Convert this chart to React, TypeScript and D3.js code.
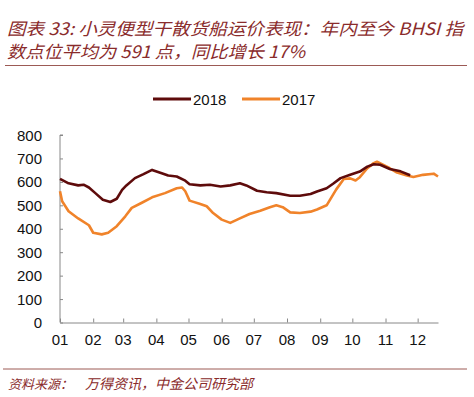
import React, { useEffect, useRef } from 'react';
import * as d3 from 'd3';

// BHSI 2018 vs 2017 (month-day, index points)
const dates2018 = [
  '01-01', '01-09', '01-18', '01-23', '01-28', '02-03', '02-10', '02-17', '02-23', '02-28',
  '03-04', '03-12', '03-20', '03-28', '04-06', '04-12', '04-20', '04-28', '05-02', '05-12',
  '05-21', '05-31', '06-09', '06-18', '06-24', '07-04', '07-13', '07-22', '08-04', '08-13',
  '08-23', '08-29', '09-07', '09-13', '09-20', '09-29', '10-08', '10-15', '10-21', '10-27',
  '11-05', '11-15', '11-24',
];
const values2018 = [
  613, 594, 585, 588, 576, 552, 524, 514, 528, 566,
  585, 616, 633, 651, 637, 627, 623, 605, 590, 585,
  588, 580, 585, 594, 585, 562, 556, 552, 541, 541,
  548, 559, 573, 592, 616, 630, 644, 665, 675, 673,
  655, 645, 628,
];

const dates2017 = [
  '01-01', '01-03', '01-09', '01-18', '01-28', '02-01', '02-09', '02-15', '02-23', '03-03',
  '03-09', '03-18', '03-28', '04-09', '04-20', '04-25', '04-28', '05-02', '05-12', '05-18',
  '05-24', '06-01', '06-09', '06-18', '06-27', '07-07', '07-16', '07-22', '07-28', '08-04',
  '08-13', '08-23', '08-29', '09-07', '09-16', '09-23', '09-29', '10-04', '10-08', '10-15',
  '10-21', '10-24', '10-30', '11-05', '11-11', '11-21', '11-27', '12-06', '12-16', '12-20',
];
const values2017 = [
  560, 517, 475, 444, 415, 383, 376, 383, 411, 453,
  489, 510, 534, 552, 573, 576, 560, 520, 506, 496,
  467, 439, 425, 444, 463, 477, 492, 500, 492, 470,
  467, 473, 482, 500, 568, 612, 615, 606, 620, 658,
  680, 686, 672, 658, 641, 627, 621, 630, 635, 623,
];

const monthLabels = ['01', '02', '03', '04', '05', '06', '07', '08', '09', '10', '11', '12'];
const yTicks = [0, 100, 200, 300, 400, 500, 600, 700, 800];
const seriesNames = ['2018', '2017'];

const title1 = '图表 33:  小灵便型干散货船运价表现：年内至今 BHSI 指';
const title2 = '数点位平均为 591 点，同比增长 17%';
const sourceLabel = '资料来源：';
const sourceText = '万得资讯，中金公司研究部';

const RED = '#8a2b2b';
const C2018 = '#5e0b0b';
const C2017 = '#f0832a';

interface Pt { date: Date; value: number }

const App: React.FC = () => {
  const ref = useRef<SVGSVGElement>(null);

  useEffect(() => {
    const svg = d3.select(ref.current);
    svg.selectAll('*').remove();

    const parse = d3.timeParse('%Y-%m-%d');
    const toPts = (ds: string[], vs: number[]): Pt[] =>
      ds.map((d, i) => ({ date: parse('2018-' + d) as Date, value: vs[i] }));
    const s2018 = toPts(dates2018, values2018);
    const s2017 = toPts(dates2017, values2017);

    const x = d3
      .scaleTime()
      .domain([parse('2018-01-01') as Date, parse('2018-12-20') as Date])
      .range([60, 438]);
    const y = d3.scaleLinear().domain([0, 800]).range([322.5, 135]);

    const sans = '"Liberation Sans", Arial, sans-serif';
    const cjk = '"Noto Sans CJK SC", sans-serif';

    // title
    svg.append('text').attr('x', 7).attr('y', 35).attr('font-family', cjk).attr('font-size', 17)
      .attr('font-style', 'italic').attr('fill', RED)
      .attr('textLength', 456).attr('lengthAdjust', 'spacingAndGlyphs').text(title1);
    svg.append('text').attr('x', 7).attr('y', 58).attr('font-family', cjk).attr('font-size', 17)
      .attr('font-style', 'italic').attr('fill', RED)
      .attr('textLength', 298).attr('lengthAdjust', 'spacingAndGlyphs').text(title2);
    svg.append('line').attr('x1', 5).attr('x2', 467).attr('y1', 65.5).attr('y2', 65.5)
      .attr('stroke', '#9c5a55').attr('stroke-width', 1);

    // legend
    const legend = svg.append('g');
    const legendX = [153, 242];
    seriesNames.forEach((name, i) => {
      legend.append('line').attr('x1', legendX[i]).attr('x2', legendX[i] + 38).attr('y1', 99).attr('y2', 99)
        .attr('stroke', i === 0 ? C2018 : C2017).attr('stroke-width', 3);
      legend.append('text').attr('x', legendX[i] + 40).attr('y', 104.5).attr('font-family', sans)
        .attr('font-size', 15).attr('fill', '#111').text(name);
    });

    // axes
    const yAxis = svg.append('g').attr('transform', 'translate(60,0)')
      .call(d3.axisRight(y).tickValues(yTicks).tickSize(3).tickFormat(() => ''));
    yAxis.select('.domain').attr('d', `M3,${y(800)}H0V${y(0)}`);
    yAxis.selectAll('line').attr('stroke', '#888');
    yAxis.select('.domain').attr('stroke', '#888');
    svg.append('g').selectAll('text').data(yTicks).join('text')
      .attr('x', 42).attr('y', (d) => y(d) + 5.5).attr('text-anchor', 'end')
      .attr('font-family', sans).attr('font-size', 15).attr('fill', '#111').text((d) => d);

    const monthDates = monthLabels.map((m) => parse(`2018-${m}-01`) as Date);
    const xAxis = svg.append('g').attr('transform', `translate(0,${y(0)})`)
      .call(d3.axisTop(x).tickValues(monthDates).tickSize(4).tickFormat(() => '').tickSizeOuter(0));
    xAxis.selectAll('line').attr('stroke', '#888');
    xAxis.select('.domain').attr('stroke', '#888');
    svg.append('g').selectAll('text').data(monthDates).join('text')
      .attr('x', (d) => x(d)).attr('y', 345).attr('text-anchor', 'middle')
      .attr('font-family', sans).attr('font-size', 15).attr('fill', '#111')
      .text((_, i) => monthLabels[i]);

    // lines
    const line = d3.line<Pt>().x((d) => x(d.date)).y((d) => y(d.value));
    svg.append('path').datum(s2017).attr('fill', 'none').attr('stroke', C2017)
      .attr('stroke-width', 2.6).attr('stroke-linejoin', 'round').attr('d', line);
    svg.append('path').datum(s2018).attr('fill', 'none').attr('stroke', C2018)
      .attr('stroke-width', 2.6).attr('stroke-linejoin', 'round').attr('d', line);

    // source
    svg.append('line').attr('x1', 3).attr('x2', 467).attr('y1', 369).attr('y2', 369)
      .attr('stroke', '#9c5a55').attr('stroke-width', 1);
    svg.append('text').attr('x', 8).attr('y', 389).attr('font-family', cjk).attr('font-size', 13)
      .attr('font-style', 'italic').attr('fill', RED).text(sourceLabel);
    svg.append('text').attr('x', 85).attr('y', 389).attr('font-family', cjk).attr('font-size', 14)
      .attr('font-style', 'italic').attr('fill', RED)
      .attr('textLength', 168).attr('lengthAdjust', 'spacingAndGlyphs').text(sourceText);
  }, []);

  return (
    <svg
      ref={ref}
      width={474}
      height={397}
      style={{ position: 'absolute', left: 0, top: 0, background: '#fff' }}
    />
  );
};

export default App;
